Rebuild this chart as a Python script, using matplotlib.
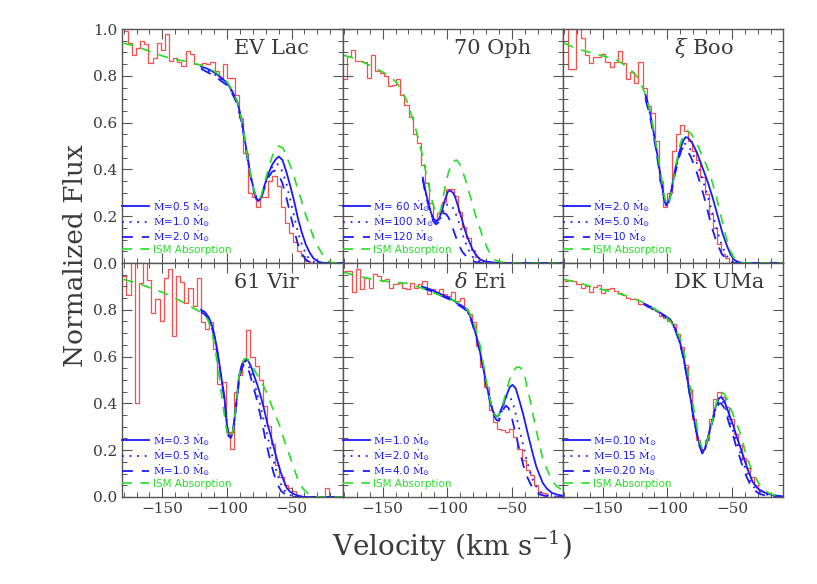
import numpy as np
import matplotlib
matplotlib.use("Agg")
import matplotlib.pyplot as plt
from matplotlib.ticker import MultipleLocator

plt.rcParams['font.family'] = ['DejaVu Serif']
plt.rcParams['mathtext.fontset'] = 'dejavuserif'

RED = '#ff4a4a'
BLUE = '#1a1aff'
GREEN = '#22e022'
INK = '#3a3a3a'

# ---- observed Ly-alpha profiles: first bin edge, bin width, fluxes ----
evlac_v0, evlac_dv = -180.0, 3.2
evlac_obs = [0.99, 0.94, 0.89, 0.92, 0.95, 0.935, 0.853, 0.878, 0.94, 0.91,
             0.98, 0.863, 0.878, 0.86, 0.844, 0.907, 0.893, 0.85, 0.85, 0.855,
             0.85, 0.86, 0.82, 0.79, 0.85, 0.79, 0.79, 0.72, 0.62, 0.47,
             0.30, 0.28, 0.24, 0.28, 0.28, 0.35, 0.37, 0.33, 0.24, 0.17,
             0.13, 0.09, 0.05, 0.03, 0.01, 0, 0, 0, 0, 0, 0, 0, 0, 0]

oph_v0, oph_dv = -181.1, 3.2
oph_obs = [0.788, 0.886, 0.911, 0.864, 0.864, 0.857, 0.79, 0.888, 0.82, 0.81,
           0.80, 0.757, 0.76, 0.785, 0.72, 0.674, 0.625, 0.55, 0.514, 0.42,
           0.342, 0.256, 0.19, 0.213, 0.26, 0.316, 0.316, 0.285, 0.22, 0.156,
           0.106, 0.056, 0.027, 0.013, 0, 0, 0, 0, 0, 0, 0, 0, 0, 0, 0, 0,
           0, 0, 0, 0, 0, 0, 0, 0]

boo_v0, boo_dv = -180.0, 3.2
boo_obs = [1.05, 0.83, 0.83, 1.05, 0.96, 0.89, 0.855, 0.88, 0.88, 0.895,
           0.86, 0.838, 0.86, 0.906, 0.853, 0.788, 0.817, 0.77, 0.86, 0.75,
           0.67, 0.64, 0.52, 0.35, 0.24, 0.30, 0.48, 0.55, 0.59, 0.566,
           0.52, 0.48, 0.44, 0.366, 0.295, 0.21, 0.15, 0.08, 0.04, 0.02,
           0, 0, 0, 0, 0, 0, 0, 0, 0, 0.006, 0.006, 0, 0, 0]

vir_v0, vir_dv = -181.0, 3.2
vir_obs = [0.945, 0.862, 1.05, 0.40, 0.916, 1.05, 0.927, 0.785, 0.848, 0.753,
           0.937, 0.973, 0.686, 0.945, 0.917, 0.83, 0.895, 0.817, 0.937, 0.746,
           0.718, 0.746, 0.633, 0.484, 0.49, 0.278, 0.207, 0.447, 0.52, 0.58,
           0.715, 0.60, 0.56, 0.50, 0.39, 0.305, 0.228, 0.137, 0.086, 0.05,
           0.04, 0.026, 0.01, 0, 0, 0, 0, 0, 0, 0.04, 0, 0, 0, 0]

eri_v0, eri_dv = -180.0, 3.2
eri_obs = [0.966, 0.966, 0.874, 0.973, 0.888, 0.937, 0.895, 0.952, 0.945, 0.923,
           0.93, 0.895, 0.909, 0.916, 0.895, 0.888, 0.916, 0.895, 0.909, 0.923,
           0.867, 0.888, 0.874, 0.888, 0.867, 0.86, 0.874, 0.838, 0.852, 0.803,
           0.781, 0.746, 0.647, 0.554, 0.47, 0.37, 0.32, 0.292, 0.285, 0.278,
           0.292, 0.256, 0.207, 0.157, 0.115, 0.094, 0.051, 0.023, 0.016, 0,
           0, 0, 0, 0]

dk_v0, dk_dv = -180.0, 3.2
dk_obs = [0.923, 0.928, 0.923, 0.909, 0.895, 0.902, 0.877, 0.899, 0.905, 0.871,
          0.888, 0.892, 0.881, 0.871, 0.862, 0.852, 0.845, 0.845, 0.824, 0.824,
          0.81, 0.803, 0.796, 0.774, 0.767, 0.753, 0.739, 0.697, 0.64, 0.562,
          0.462, 0.335, 0.243, 0.207, 0.243, 0.335, 0.42, 0.448, 0.427, 0.385,
          0.335, 0.271, 0.222, 0.165, 0.122, 0.087, 0.051, 0.03, 0.02, 0.011,
          0, 0, 0, 0]

# ---- ISM-only absorption profiles (velocity, flux) ----
evlac_ism = [(-180, 0.94), (-170, 0.925), (-160, 0.905), (-150, 0.885), (-140, 0.87),
             (-130, 0.86), (-120, 0.845), (-110, 0.82), (-105, 0.80), (-100, 0.775),
             (-96, 0.74), (-92, 0.69), (-89, 0.62), (-86.5, 0.54), (-84, 0.45),
             (-81.5, 0.37), (-79, 0.31), (-77, 0.275), (-75.5, 0.268), (-73.5, 0.285),
             (-71, 0.34), (-68, 0.40), (-65, 0.455), (-62, 0.49), (-59.8, 0.50),
             (-56.5, 0.49), (-53.4, 0.45), (-50.5, 0.41), (-48, 0.37), (-45.5, 0.32),
             (-43, 0.28), (-40.5, 0.23), (-38, 0.19), (-35.5, 0.15), (-33, 0.11),
             (-30, 0.075), (-27.5, 0.05), (-25, 0.025), (-22.5, 0.01), (-19, 0.002),
             (-15, 0.0), (-10, 0.0)]
oph_ism = [(-180, 0.888), (-172, 0.875), (-164.6, 0.857), (-157, 0.837), (-149.2, 0.814),
           (-144, 0.795), (-138.9, 0.77), (-136.5, 0.75), (-133.8, 0.72), (-131, 0.69),
           (-128.6, 0.65), (-126, 0.605), (-123.5, 0.556), (-121.5, 0.51), (-119.6, 0.47),
           (-117.7, 0.42), (-115.8, 0.37), (-113.8, 0.32), (-111.9, 0.27), (-110, 0.235),
           (-108.1, 0.21), (-106.8, 0.205), (-105, 0.225), (-103, 0.285), (-101, 0.34),
           (-99.1, 0.385), (-97, 0.415), (-95.3, 0.435), (-92.7, 0.44), (-90.5, 0.425),
           (-88.8, 0.40), (-86, 0.36), (-83.7, 0.313), (-81, 0.265), (-78.6, 0.213),
           (-76, 0.17), (-73.4, 0.127), (-71, 0.09), (-68.3, 0.056), (-65.5, 0.03),
           (-63.2, 0.013), (-60, 0.006), (-56.7, 0.003), (-52, 0.0), (-10, 0.0)]
boo_ism = [(-180, 0.94), (-170, 0.915), (-160, 0.90), (-150, 0.885), (-140, 0.87),
           (-130, 0.835), (-124, 0.80), (-120, 0.76), (-117, 0.72), (-114, 0.66),
           (-111, 0.58), (-108, 0.48), (-105, 0.38), (-102.5, 0.29), (-100.5, 0.245),
           (-98.5, 0.26), (-96, 0.33), (-93, 0.43), (-90, 0.51), (-87, 0.555),
           (-84.5, 0.565), (-82, 0.555), (-78, 0.52), (-74, 0.47), (-70, 0.42),
           (-66, 0.36), (-62, 0.28), (-58.5, 0.20), (-55, 0.12), (-52, 0.06),
           (-49, 0.025), (-45, 0.005), (-40, 0.0), (-10, 0.0)]
vir_ism = [(-180, 0.93), (-170, 0.915), (-160, 0.895), (-150, 0.875), (-140, 0.85),
           (-130, 0.82), (-122, 0.795), (-118, 0.78), (-115, 0.76), (-113, 0.73),
           (-111, 0.69), (-108.5, 0.61), (-106, 0.52), (-103.5, 0.41), (-101, 0.31),
           (-99, 0.26), (-97, 0.25), (-95.5, 0.28), (-94, 0.34), (-92, 0.44),
           (-90.5, 0.52), (-88.5, 0.57), (-86.5, 0.59), (-84.5, 0.592), (-81, 0.57),
           (-78.5, 0.54), (-73, 0.49), (-68.3, 0.434), (-64, 0.37), (-59.3, 0.307),
           (-55.5, 0.24), (-51.6, 0.179), (-48, 0.12), (-44.4, 0.065), (-41, 0.035),
           (-38, 0.018), (-34, 0.005), (-30, 0.0), (-10, 0.0)]
eri_ism = [(-180, 0.96), (-170, 0.945), (-157, 0.93), (-145, 0.92), (-131, 0.913),
           (-118, 0.89), (-105, 0.86), (-95, 0.84), (-87, 0.817), (-83, 0.79),
           (-79.5, 0.746), (-77, 0.70), (-74.5, 0.647), (-72, 0.57), (-69.5, 0.49),
           (-67, 0.42), (-64.5, 0.365), (-62, 0.342), (-59.5, 0.355), (-56.5, 0.405),
           (-54, 0.455), (-51.5, 0.505), (-49, 0.535), (-46.5, 0.554), (-44, 0.555),
           (-42, 0.545), (-40, 0.52), (-38.5, 0.477), (-36, 0.42), (-33.5, 0.35),
           (-31, 0.285), (-28.5, 0.222), (-26, 0.165), (-23, 0.122), (-20.5, 0.09),
           (-18, 0.065), (-15, 0.045), (-12.5, 0.035), (-10, 0.03)]
dk_ism = [(-180, 0.93), (-168, 0.915), (-157, 0.895), (-144, 0.878), (-131, 0.859),
          (-118.5, 0.831), (-112, 0.81), (-105.5, 0.789), (-98, 0.753), (-94, 0.72),
          (-90, 0.675), (-87.5, 0.625), (-85, 0.56), (-82.5, 0.475), (-80, 0.39),
          (-77.5, 0.31), (-75, 0.236), (-72.5, 0.20), (-70, 0.225), (-67, 0.278),
          (-64.5, 0.345), (-62, 0.405), (-60, 0.435), (-58, 0.448), (-56, 0.44),
          (-54, 0.42), (-51.5, 0.385), (-49, 0.35), (-46.5, 0.315), (-44, 0.278),
          (-41.5, 0.23), (-39, 0.178), (-36.5, 0.14), (-34, 0.108), (-31, 0.075),
          (-28.5, 0.051), (-25, 0.03), (-21, 0.015), (-17, 0.008), (-13, 0.004),
          (-10, 0.003)]

# ---- astrosphere models for three mass-loss rates (velocity, flux) ----
evlac_m1 = [(-120, 0.84), (-115, 0.83), (-110, 0.815), (-105, 0.795), (-100, 0.77),
            (-96, 0.735), (-92, 0.69), (-89, 0.62), (-86.5, 0.54), (-84, 0.45),
            (-81.5, 0.37), (-79, 0.31), (-77, 0.275), (-75.5, 0.265), (-73.5, 0.28),
            (-71, 0.33), (-68, 0.38), (-65, 0.42), (-62, 0.445), (-59.8, 0.455),
            (-57, 0.44), (-54, 0.39), (-51, 0.33), (-48, 0.265), (-45, 0.19),
            (-42, 0.13), (-39, 0.08), (-36, 0.045), (-33, 0.02), (-29, 0.005),
            (-25, 0.0), (-10, 0.0)]
evlac_m2 = [(-120, 0.835), (-115, 0.823), (-110, 0.808), (-105, 0.788), (-100, 0.765),
            (-96, 0.73), (-92, 0.685), (-89, 0.615), (-86.5, 0.535), (-84, 0.445),
            (-81.5, 0.365), (-79, 0.305), (-77, 0.272), (-75.5, 0.263), (-73.5, 0.278),
            (-71, 0.325), (-68, 0.375), (-65, 0.41), (-62.5, 0.425), (-60, 0.42),
            (-57, 0.39), (-54, 0.34), (-51, 0.27), (-48, 0.20), (-45, 0.13),
            (-42, 0.08), (-39, 0.04), (-36, 0.015), (-32, 0.003), (-28, 0.0),
            (-10, 0.0)]
evlac_m3 = [(-120, 0.83), (-115, 0.815), (-110, 0.80), (-105, 0.78), (-100, 0.76),
            (-96, 0.725), (-92, 0.68), (-89, 0.61), (-86.5, 0.53), (-84, 0.44),
            (-81.5, 0.36), (-79, 0.30), (-77, 0.27), (-75.5, 0.262), (-73.5, 0.276),
            (-71, 0.32), (-68, 0.365), (-65, 0.39), (-63, 0.395), (-60, 0.38),
            (-57, 0.34), (-54, 0.28), (-51, 0.21), (-48, 0.14), (-45, 0.08),
            (-42, 0.04), (-39, 0.015), (-35, 0.0), (-10, 0.0)]

oph_m1 = [(-118.9, 0.365), (-116.5, 0.30), (-114.5, 0.256), (-112.5, 0.215),
          (-110.7, 0.19), (-108.5, 0.177), (-106.5, 0.185), (-104, 0.225),
          (-101.7, 0.27), (-99.5, 0.305), (-97.5, 0.31), (-95.5, 0.30), (-94, 0.285),
          (-92, 0.25), (-90, 0.213), (-88, 0.175), (-86.3, 0.142), (-84.3, 0.11),
          (-82.4, 0.085), (-80.5, 0.06), (-78.6, 0.042), (-76.5, 0.027), (-74.7, 0.016),
          (-72, 0.009), (-69.6, 0.006), (-64, 0.002), (-59, 0.0), (-10, 0.0)]
oph_m2 = [(-118.9, 0.36), (-116.5, 0.295), (-114.5, 0.25), (-112.5, 0.21),
          (-110.7, 0.183), (-108.5, 0.17), (-106.5, 0.175), (-104, 0.205),
          (-102, 0.235), (-100, 0.25), (-98, 0.25), (-96, 0.24), (-94, 0.22),
          (-92, 0.19), (-90, 0.16), (-87.6, 0.115), (-85, 0.075), (-82.5, 0.045),
          (-80, 0.025), (-77, 0.01), (-73, 0.003), (-68, 0.0), (-10, 0.0)]
oph_m3 = [(-118.9, 0.355), (-116.5, 0.29), (-114.5, 0.245), (-112.5, 0.205),
          (-110.7, 0.178), (-108.5, 0.165), (-106.5, 0.175), (-104.5, 0.20),
          (-103, 0.213), (-101, 0.21), (-99, 0.195), (-97, 0.17), (-94.5, 0.13),
          (-91.5, 0.085), (-88.5, 0.05), (-85, 0.027), (-82, 0.012), (-78, 0.004),
          (-73, 0.0), (-10, 0.0)]

boo_m1 = [(-117, 0.72), (-114, 0.66), (-111, 0.57), (-108, 0.47), (-105, 0.36),
          (-103, 0.29), (-101, 0.252), (-99, 0.26), (-97, 0.31), (-94, 0.40),
          (-91, 0.47), (-88, 0.52), (-86, 0.538), (-84, 0.535), (-81, 0.515),
          (-77, 0.47), (-73, 0.41), (-69, 0.35), (-65, 0.28), (-61, 0.20),
          (-57.5, 0.13), (-54, 0.075), (-51, 0.035), (-48, 0.012), (-44, 0.002),
          (-40, 0.0), (-10, 0.0)]
boo_m2 = [(-117, 0.71), (-114, 0.65), (-111, 0.56), (-108, 0.46), (-105, 0.355),
          (-103, 0.285), (-101, 0.25), (-99, 0.26), (-97, 0.305), (-94, 0.39),
          (-91, 0.46), (-88.5, 0.505), (-86.5, 0.51), (-84, 0.50), (-81, 0.475),
          (-77, 0.425), (-73, 0.36), (-69, 0.29), (-65, 0.21), (-61, 0.13),
          (-57.5, 0.07), (-54, 0.03), (-51, 0.01), (-47, 0.0), (-10, 0.0)]
boo_m3 = [(-117, 0.70), (-114, 0.64), (-111, 0.555), (-108, 0.455), (-105, 0.35),
          (-103, 0.28), (-101, 0.245), (-99, 0.255), (-97, 0.30), (-94, 0.385),
          (-91, 0.45), (-89, 0.485), (-87.5, 0.495), (-85.5, 0.49), (-82, 0.455),
          (-78, 0.40), (-74, 0.33), (-70, 0.25), (-66, 0.16), (-62, 0.09),
          (-58, 0.04), (-54, 0.012), (-50, 0.0), (-10, 0.0)]

vir_m1 = [(-120, 0.80), (-117, 0.79), (-114, 0.767), (-112, 0.74), (-110, 0.70),
          (-108, 0.645), (-106, 0.576), (-104, 0.50), (-102, 0.43), (-100, 0.31),
          (-98.5, 0.26), (-97, 0.252), (-95.5, 0.28), (-94, 0.34), (-92, 0.44),
          (-90.5, 0.52), (-88.5, 0.565), (-86.5, 0.584), (-84, 0.587), (-81.5, 0.56),
          (-79, 0.519), (-76.5, 0.48), (-74, 0.434), (-71, 0.37), (-69, 0.32),
          (-66, 0.26), (-63.5, 0.207), (-61, 0.155), (-58.5, 0.108), (-56, 0.07),
          (-53.5, 0.037), (-51, 0.022), (-48, 0.012), (-44, 0.004), (-40, 0.0),
          (-10, 0.0)]
vir_m2 = [(-120, 0.795), (-117, 0.785), (-114, 0.762), (-112, 0.735), (-110, 0.695),
          (-108, 0.64), (-106, 0.57), (-104, 0.495), (-102, 0.425), (-100, 0.305),
          (-98.5, 0.258), (-97, 0.25), (-95.5, 0.278), (-94, 0.335), (-92, 0.435),
          (-90.5, 0.51), (-88.5, 0.56), (-86.5, 0.58), (-84.5, 0.575), (-82, 0.545),
          (-79.5, 0.50), (-77, 0.45), (-74.5, 0.40), (-72, 0.34), (-69, 0.27),
          (-66, 0.20), (-63, 0.135), (-60, 0.08), (-57, 0.04), (-54, 0.018),
          (-50, 0.005), (-45, 0.0), (-10, 0.0)]
vir_m3 = [(-120, 0.79), (-117, 0.78), (-114, 0.757), (-112, 0.73), (-110, 0.69),
          (-108, 0.635), (-106, 0.565), (-104, 0.49), (-102, 0.42), (-100, 0.30),
          (-98.5, 0.255), (-97, 0.248), (-95.5, 0.275), (-94, 0.33), (-92, 0.43),
          (-90.5, 0.50), (-88.5, 0.55), (-86.5, 0.57), (-85, 0.565), (-82.5, 0.53),
          (-80, 0.48), (-77.5, 0.43), (-75, 0.37), (-72.5, 0.31), (-70, 0.24),
          (-67, 0.17), (-64, 0.105), (-61, 0.055), (-58, 0.025), (-54, 0.008),
          (-50, 0.0), (-10, 0.0)]

eri_m1 = [(-119.5, 0.90), (-112, 0.885), (-105, 0.867), (-98, 0.85), (-92.5, 0.83),
          (-88, 0.815), (-84.5, 0.80), (-82, 0.77), (-79.5, 0.728), (-77, 0.68),
          (-74.5, 0.618), (-72, 0.55), (-69.5, 0.477), (-67, 0.42), (-64.5, 0.365),
          (-62, 0.342), (-60, 0.35), (-57, 0.39), (-54, 0.435), (-51.5, 0.47),
          (-49.5, 0.479), (-47, 0.465), (-44, 0.41), (-41, 0.35), (-38.5, 0.292),
          (-36, 0.235), (-33.5, 0.18), (-31, 0.13), (-28.5, 0.094), (-26, 0.06),
          (-23, 0.037), (-19, 0.018), (-15, 0.01), (-10, 0.005)]
eri_m2 = [(-119.5, 0.897), (-112, 0.882), (-105, 0.864), (-98, 0.847), (-92.5, 0.827),
          (-88, 0.812), (-84.5, 0.797), (-82, 0.767), (-79.5, 0.725), (-77, 0.677),
          (-74.5, 0.615), (-72, 0.547), (-69.5, 0.474), (-67, 0.415), (-64.5, 0.36),
          (-62, 0.335), (-60, 0.33), (-57.5, 0.37), (-55, 0.42), (-53, 0.435),
          (-51, 0.425), (-48, 0.38), (-45, 0.31), (-42, 0.24), (-39, 0.17),
          (-36, 0.11), (-33, 0.065), (-30, 0.035), (-27, 0.018), (-23, 0.008),
          (-18, 0.003), (-10, 0.0)]
eri_m3 = [(-119.5, 0.894), (-112, 0.879), (-105, 0.861), (-98, 0.844), (-92.5, 0.824),
          (-88, 0.809), (-84.5, 0.794), (-82, 0.764), (-79.5, 0.722), (-77, 0.674),
          (-74.5, 0.612), (-72, 0.544), (-69.5, 0.47), (-67, 0.41), (-64.5, 0.355),
          (-62, 0.33), (-60, 0.325), (-58, 0.35), (-56, 0.38), (-54.5, 0.39),
          (-52.5, 0.38), (-50, 0.34), (-47, 0.27), (-44, 0.20), (-41, 0.135),
          (-38, 0.085), (-35, 0.05), (-32, 0.025), (-28, 0.01), (-23, 0.003),
          (-18, 0.0), (-10, 0.0)]

dk_m1 = [(-118, 0.826), (-112, 0.81), (-106, 0.789), (-102, 0.775), (-98, 0.76),
         (-94, 0.72), (-90, 0.655), (-87.5, 0.595), (-85, 0.52), (-82.5, 0.435),
         (-80, 0.35), (-77.5, 0.28), (-75, 0.22), (-73, 0.19), (-71, 0.205),
         (-69, 0.245), (-67, 0.29), (-64.5, 0.345), (-62, 0.398), (-60, 0.422),
         (-58.5, 0.427), (-56.5, 0.415), (-54.5, 0.39), (-52, 0.35), (-49, 0.305),
         (-46.5, 0.26), (-44, 0.22), (-41.5, 0.178), (-39, 0.136), (-36.5, 0.098),
         (-34, 0.065), (-31, 0.042), (-28.5, 0.03), (-25, 0.02), (-21, 0.012),
         (-17, 0.007), (-13, 0.004), (-10, 0.003)]
dk_m2 = [(-118, 0.824), (-112, 0.808), (-106, 0.787), (-102, 0.773), (-98, 0.758),
         (-94, 0.718), (-90, 0.653), (-87.5, 0.593), (-85, 0.518), (-82.5, 0.433),
         (-80, 0.348), (-77.5, 0.278), (-75, 0.218), (-73, 0.188), (-71, 0.203),
         (-69, 0.243), (-67, 0.288), (-64.5, 0.34), (-62, 0.39), (-60, 0.412),
         (-58.5, 0.415), (-56.5, 0.40), (-54.5, 0.37), (-52, 0.33), (-49, 0.28),
         (-46.5, 0.235), (-44, 0.195), (-41.5, 0.15), (-39, 0.11), (-36.5, 0.075),
         (-34, 0.048), (-31, 0.03), (-28, 0.02), (-24, 0.012), (-20, 0.006),
         (-15, 0.003), (-10, 0.0)]
dk_m3 = [(-118, 0.822), (-112, 0.806), (-106, 0.785), (-102, 0.771), (-98, 0.756),
         (-94, 0.716), (-90, 0.651), (-87.5, 0.591), (-85, 0.516), (-82.5, 0.431),
         (-80, 0.346), (-77.5, 0.276), (-75, 0.216), (-73, 0.186), (-71, 0.20),
         (-69, 0.24), (-67, 0.285), (-64.5, 0.335), (-62, 0.38), (-60, 0.40),
         (-58.5, 0.40), (-56.5, 0.385), (-54.5, 0.355), (-52, 0.31), (-49, 0.26),
         (-46.5, 0.21), (-44, 0.17), (-41.5, 0.125), (-39, 0.09), (-36.5, 0.06),
         (-34, 0.038), (-31, 0.022), (-28, 0.012), (-24, 0.006), (-20, 0.003),
         (-15, 0.0), (-10, 0.0)]

star_names = ['EV Lac', '70 Oph', r'$\xi$ Boo', '61 Vir', r'$\delta$ Eri', 'DK UMa']
mdot_labels = [['0.5', '1.0', '2.0'], [' 60', '100', '120'], ['2.0', '5.0', '10'],
               ['0.3', '0.5', '1.0'], ['1.0', '2.0', '4.0'], ['0.10', '0.15', '0.20']]

panels = [
    (evlac_v0, evlac_dv, evlac_obs, evlac_ism, [evlac_m1, evlac_m2, evlac_m3]),
    (oph_v0, oph_dv, oph_obs, oph_ism, [oph_m1, oph_m2, oph_m3]),
    (boo_v0, boo_dv, boo_obs, boo_ism, [boo_m1, boo_m2, boo_m3]),
    (vir_v0, vir_dv, vir_obs, vir_ism, [vir_m1, vir_m2, vir_m3]),
    (eri_v0, eri_dv, eri_obs, eri_ism, [eri_m1, eri_m2, eri_m3]),
    (dk_v0, dk_dv, dk_obs, dk_ism, [dk_m1, dk_m2, dk_m3]),
]

model_styles = ['-', (0, (1, 3.2)), (0, (6, 5))]

fig, axes = plt.subplots(2, 3, figsize=(8.17, 5.84), dpi=100)
fig.subplots_adjust(left=0.1497, right=0.9584, top=0.9503, bottom=0.149,
                    wspace=0, hspace=0)

for i, ax in enumerate(axes.flat):
    v0, dv, obs, ism, models = panels[i]
    edges = v0 + dv * np.arange(len(obs) + 1)
    ax.stairs(obs, edges, color=RED, lw=0.9, baseline=None)

    handles = []
    for m, ls, lab in zip(models, model_styles, mdot_labels[i]):
        mv, mf = zip(*m)
        h, = ax.plot(mv, mf, color=BLUE, lw=1.3, ls=ls,
                     label=r'$\dot{\mathrm{M}}$=' + lab + r' $\dot{\mathrm{M}}_{\odot}$')
        handles.append(h)
    iv, iff = zip(*ism)
    h, = ax.plot(iv, iff, color=GREEN, lw=1.2, ls=(0, (6, 5)), label='ISM Absorption')
    handles.append(h)

    ax.legend(handles=handles, loc='lower left', bbox_to_anchor=(0, 0.035),
              frameon=False, borderpad=0, borderaxespad=0, handlelength=2.6,
              handletextpad=0.3, labelspacing=0.05,
              prop={'family': 'DejaVu Sans', 'size': 7.5},
              labelcolor=[BLUE, BLUE, BLUE, GREEN])

    ax.text(0.505, 0.895, star_names[i], transform=ax.transAxes, ha='left',
            va='baseline', fontsize=15, color=INK)

    ax.set_xlim(-181, -10.5)
    ax.set_ylim(0, 1.0)
    ax.set_xticks([-150, -100, -50])
    ax.set_xticklabels(['\u2212150', '\u2212100', '\u221250'])
    ax.xaxis.set_minor_locator(MultipleLocator(10))
    if i == 3:
        ax.set_yticks([0, 0.2, 0.4, 0.6, 0.8])
    else:
        ax.set_yticks([0, 0.2, 0.4, 0.6, 0.8, 1.0])
    ax.yaxis.set_major_formatter(plt.FuncFormatter(lambda y, p: f'{y:.1f}'))
    ax.yaxis.set_minor_locator(MultipleLocator(0.05))
    ax.tick_params(which='both', direction='in', top=True, right=True,
                   colors='#555555', labelcolor=INK, labelsize=11,
                   labelleft=(i % 3 == 0), labelbottom=(i >= 3))
    ax.tick_params(which='major', length=7, width=0.8)
    ax.tick_params(which='minor', length=3.5, width=0.7)
    for s in ax.spines.values():
        s.set_color('#555555')
        s.set_linewidth(1.0)

fig.text(0.093, 0.563, 'Normalized Flux', rotation=90, ha='center', va='center',
         fontsize=19, color=INK)
fig.text(0.553, 0.064, r'Velocity (km s$^{-1}$)', ha='center', va='center',
         fontsize=20, color=INK)

fig.savefig('out.png', dpi=100)
